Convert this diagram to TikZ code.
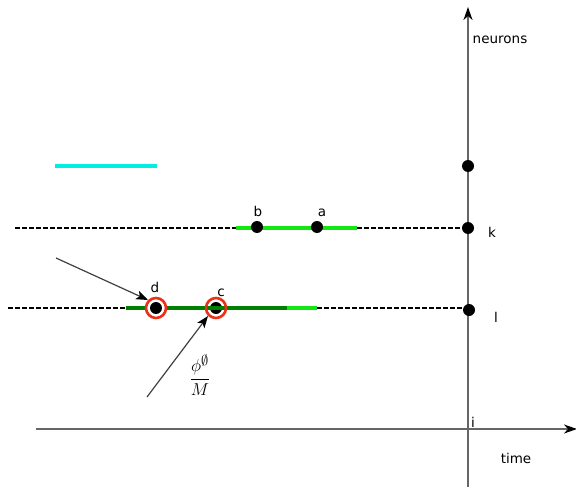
\documentclass[tikz,border=0pt]{standalone}
\usepackage{amsmath}
\usepackage{fontspec}
\setmainfont{DejaVu Sans}
\usetikzlibrary{arrows.meta}
\definecolor{cyanline}{RGB}{0,238,228}
\definecolor{lightgreen}{RGB}{20,230,20}
\definecolor{darkgreen}{RGB}{0,128,0}
\definecolor{ringred}{RGB}{235,50,25}
\begin{document}
\begin{tikzpicture}[x=1pt,y=-1pt,
  axis/.style={draw=gray!80!black,line width=1.6pt,-{Stealth[length=13pt,width=9pt,inset=4pt,black]}},
  dash line/.style={draw=black,line width=1.4pt,dash pattern=on 4.5pt off 2.5pt},
  seg/.style={line width=3.6pt},
  dot/.style={circle,fill=black,inner sep=0pt,minimum size=12pt},
  ring/.style={circle,draw=ringred,line width=2.6pt,minimum size=20pt,inner sep=0pt},
  lbl/.style={font=\fontsize{13.5}{15}\selectfont,inner sep=0pt},
  pointer/.style={draw=gray!50!black,line width=1.2pt,-{Stealth[length=12pt,width=9pt,inset=3pt,black]}}]
\useasboundingbox (0,0) rectangle (576,487);
% axes
\coordinate (vb) at (468,487);
\coordinate (vt) at (468,7);
\coordinate (hl) at (36,429);
\coordinate (hr) at (577,429);
\draw[axis] (vb) -- (vt);
\draw[axis] (hl) -- (hr);
\node[lbl] (neurons) at (500,40) {neurons};
\node[lbl] (time) at (516,458) {time};
\node[lbl] (li) at (473,422) {i};
\node[lbl] (lk) at (492,232) {k};
\node[lbl] (ll) at (496,317) {l};
% cyan
\coordinate (cy1) at (55,166);
\coordinate (cy2) at (157,166);
\draw[seg,draw=cyanline] (cy1) -- (cy2);
% top row
\coordinate (t0) at (15,228);
\coordinate (t1) at (236,228);
\coordinate (t2) at (357,228);
\draw[dash line] (t0) -- (t1);
\draw[dash line] (t2) -- (468,228);
\draw[seg,draw=lightgreen] (t1) -- (t2);
% bottom row
\coordinate (b0) at (8,308);
\coordinate (b1) at (126,308);
\coordinate (b2) at (287,308);
\coordinate (b3) at (317,308);
\draw[dash line] (b0) -- (b1);
\draw[dash line] (b3) -- (468,308);
\node[dot] (c) at (216,308) {};
\draw[seg,draw=darkgreen] (b1) -- (b2);
\draw[seg,draw=lightgreen] (b2) -- (b3);
% axis dots
\node[dot] (n1) at (468,166) {};
\node[dot] (nk) at (468,228) {};
\node[dot] (nl) at (469,310) {};
% points
\node[dot] (b) at (257,227) {};
\node[dot] (a) at (317,227) {};
\node[lbl] at (258,211) {b};
\node[lbl] at (322,213) {a};
\node[ring,fill=white] (rd) at (156,308) {};
\node[dot] (d) at (156,308) {};
\node[ring] (rc) at (216,308) {};
\node[lbl] at (155,287) {d};
\node[lbl] at (221,293) {c};
% pointers
\coordinate (p1) at (56,258);
\coordinate (p2) at (147,397);
\draw[pointer] (p1) -- (rd.north west);
\draw[pointer] (p2) -- (rc.south west);
\node[inner sep=0pt,font=\fontsize{19}{22}\selectfont] (frac) at (200,375) {$\dfrac{\phi^{\emptyset}}{M}$};
\end{tikzpicture}
\end{document}
